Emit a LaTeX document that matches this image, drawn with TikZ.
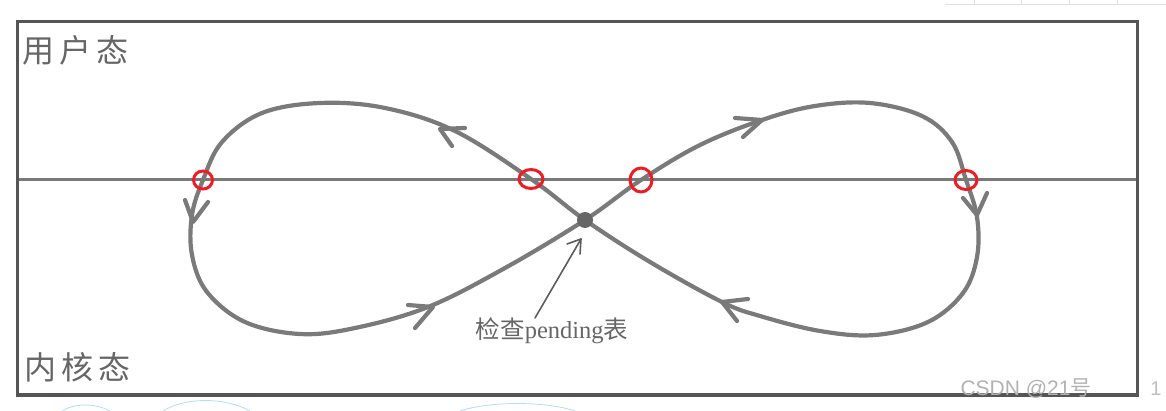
\documentclass[tikz,border=0pt]{standalone}
\usepackage{fontspec}
\setmainfont{Liberation Serif}
\newfontfamily\cjk{Noto Sans CJK SC}[Scale=1]
\newfontfamily\wm{Liberation Sans}
\definecolor{boxc}{HTML}{555555}
\definecolor{curvec}{HTML}{7A7A7A}
\definecolor{txtc}{HTML}{666666}
\definecolor{redc}{HTML}{EE1C25}
\definecolor{bluec}{HTML}{7CC8F0}
\tikzset{
  frame/.style={draw=boxc, line width=3.5},
  midline/.style={draw=curvec, line width=3},
  loopline/.style={draw=curvec, line width=4.2, line cap=round, line join=round},
  vhead/.style={draw=curvec, line width=4.2, line cap=round, line join=round},
  redring/.style={draw=redc, line width=3},
  lbl/.style={text=txtc, inner sep=0pt},
}
\begin{document}
\begin{tikzpicture}[x=1pt,y=-1pt]
\useasboundingbox (0,0) rectangle (1166,411);
% faint grid top right
\draw[black!12, line width=1] (945,5) -- (1166,5);
\foreach \xx in {974,1021,1069,1117} \draw[black!12, line width=1] (\xx,0) -- (\xx,5);
% faint blue arcs bottom
\draw[bluec!60, line width=0.8] (62,411) .. controls (75,403) and (95,403) .. (110,411);
\draw[bluec!60, line width=0.8] (163,411) .. controls (185,397) and (225,397) .. (250,411);
\draw[bluec!60, line width=0.8] (460,411) .. controls (490,401) and (545,401) .. (575,411);
% frame
\draw[frame] (17.5,21.5) rectangle (1137.5,395);
\draw[midline] (19,180) -- (1136,180);
% labels
\node[lbl, anchor=west, font=\cjk\fontsize{32}{32}\selectfont] (user) at (22,50) {用\hspace{5pt}户\hspace{5pt}态};
\node[lbl, anchor=west, font=\cjk\fontsize{32}{32}\selectfont] (kern) at (24,367) {内\hspace{5pt}核\hspace{5pt}态};
% figure eight
\draw[loopline] plot[smooth cycle, tension=0.6] coordinates {
  (585,220) (531,179) (455,131) (385,108) (320,103) (262,113) (222,142) (203,180)
  (192,215) (192,255) (207,292) (245,322) (300,334) (355,328) (428,307) (505,268)
  (585,220) (641,180) (700,145) (762,120) (815,106) (870,103) (922,116) (952,142) (966,180)
  (977,217) (977,257) (963,293) (928,322) (875,335) (820,331) (760,316) (722,302) (650,262)
};
% arrowheads
\draw[vhead] (465,128) -- (440,129) -- (452,146);
\draw[vhead] (735,118) -- (762,120) -- (743,137);
\draw[vhead] (185,200) -- (193,222) -- (208,202);
\draw[vhead] (963,198) -- (977,215) -- (987,193);
\draw[vhead] (408,305) -- (433,307) -- (415,328);
\draw[vhead] (748,299) -- (722,302) -- (737,321);
% red rings
\draw[redring] (203,180) ellipse [x radius=9.5, y radius=9];
\draw[redring] (531,179) ellipse [x radius=12, y radius=9.5];
\draw[redring] (641,180) ellipse [x radius=11, y radius=12];
\draw[redring] (966,180) ellipse [x radius=11, y radius=9.5];
% check point
\fill[txtc] (585,220) circle (8) coordinate (chk);
\node[lbl, font=\fontsize{24.5}{24.5}\selectfont] (note) at (552,331) {{\cjk 检查}pending{\cjk 表}};
\coordinate (ntail) at (535,318);
\coordinate (ntip) at (581,239);
\draw[draw=txtc!90!black, line width=1.6, line cap=round] (ntail) -- (ntip);
\draw[draw=txtc!90!black, line width=1.6, line cap=round, line join=round] (567,244) -- (ntip) -- (580,254);
% watermark
\node[text=black!30, font=\wm\fontsize{21}{21}\selectfont, inner sep=0pt] (wmk) at (1026,389) {CSDN @21{\cjk 号}};
\node[text=black!25, font=\wm\fontsize{20}{20}\selectfont, inner sep=0pt] (pg) at (1156,389) {1};
\end{tikzpicture}
\end{document}
